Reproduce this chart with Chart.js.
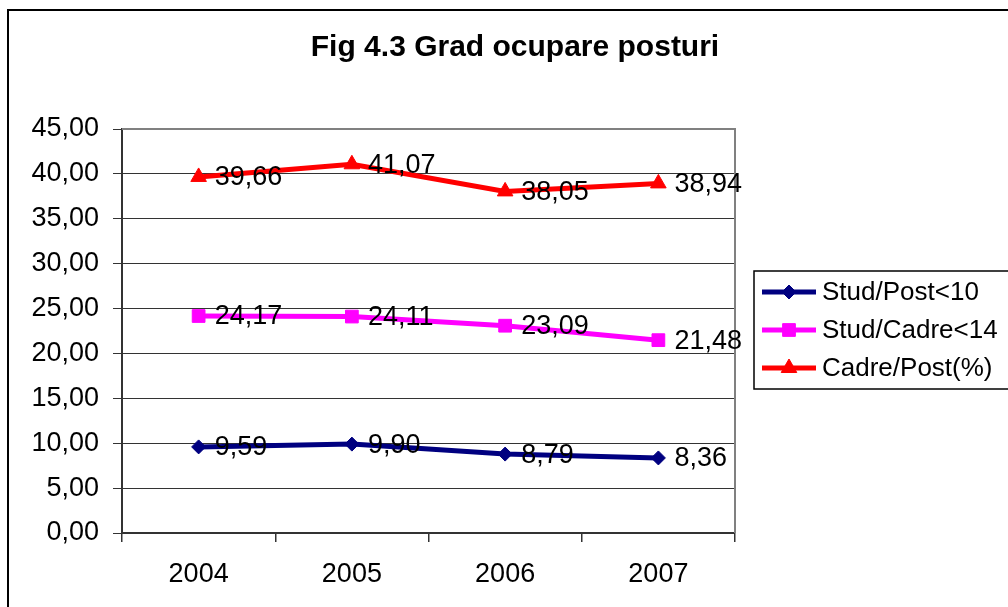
<!DOCTYPE html>
<html>
<head>
<meta charset="utf-8">
<script src="https://cdn.jsdelivr.net/npm/chart.js@4/dist/chart.umd.min.js"></script>
<style>
  html, body { margin: 0; padding: 0; background: #fff; }
  #wrap { width: 1008px; height: 607px; }
</style>
</head>
<body>
<div id="wrap"><canvas id="chart"></canvas></div>
<script>
const years = ['2004', '2005', '2006', '2007'];
const studPost = [9.59, 9.90, 8.79, 8.36];
const studCadre = [24.17, 24.11, 23.09, 21.48];
const cadrePost = [39.66, 41.07, 38.05, 38.94];
const seriesNames = ['Stud/Post<10', 'Stud/Cadre<14', 'Cadre/Post(%)'];
const titleText = 'Fig 4.3 Grad ocupare posturi';

const FONT = '"Liberation Sans", Arial, sans-serif';
const fmt = v => v.toFixed(2).replace('.', ',');

// frame, title, plot border, value labels, legend
const decor = {
  id: 'decor',
  beforeDraw(chart) {
    const c = chart.ctx;
    c.save();
    c.fillStyle = '#fff';
    c.fillRect(0, 0, chart.width, chart.height);
    c.strokeStyle = '#000';
    c.lineWidth = 2;
    c.strokeRect(8, 10, 1020, 620);
    c.fillStyle = '#000';
    c.font = 'bold 30px ' + FONT;
    c.textAlign = 'center';
    c.textBaseline = 'middle';
    c.fillText(titleText, 515, 48);
    c.restore();
  },
  beforeDatasetsDraw(chart) {
    const a = chart.chartArea;
    const c = chart.ctx;
    c.save();
    c.strokeStyle = '#808080';
    c.lineWidth = 2;
    c.beginPath();
    c.moveTo(a.left, a.top);
    c.lineTo(a.right, a.top);
    c.lineTo(a.right, a.bottom);
    c.stroke();
    c.restore();
  },
  afterDatasetsDraw(chart) {
    const c = chart.ctx;
    c.save();
    c.fillStyle = '#000';
    c.font = '27px ' + FONT;
    c.textAlign = 'left';
    c.textBaseline = 'middle';
    chart.data.datasets.forEach((ds, i) => {
      chart.getDatasetMeta(i).data.forEach((pt, j) => {
        c.fillText(fmt(ds.data[j]), pt.x + 16, pt.y + 1);
      });
    });

    // legend
    c.font = '26px ' + FONT;
    c.strokeStyle = '#000';
    c.lineWidth = 1.5;
    c.strokeRect(754, 271, 300, 118);
    const rows = [292, 330, 368];
    chart.data.datasets.slice().reverse().forEach((ds, k) => {
      const y = rows[k];
      c.strokeStyle = ds.borderColor;
      c.fillStyle = ds.borderColor;
      c.lineWidth = 5;
      c.beginPath();
      c.moveTo(762, y);
      c.lineTo(816, y);
      c.stroke();
      c.lineWidth = 1;
      Chart.helpers.drawPoint(c, {
        pointStyle: ds.pointStyle, radius: ds.pointRadius, borderWidth: 1
      }, 789, y);
      c.fillStyle = '#000';
      c.fillText(ds.label, 822, y + 1);
    });
    c.restore();
  }
};

function series(label, data, color, style, r) {
  return {
    label, data,
    borderColor: color, backgroundColor: color,
    pointBackgroundColor: color, pointBorderColor: color, pointBorderWidth: 1,
    borderWidth: 5, pointStyle: style, pointRadius: r, pointHoverRadius: r,
    tension: 0
  };
}

// drawn bottom to top so the legend (reversed) reads like the original
const datasets = [
  series(seriesNames[2], cadrePost, '#ff0000', 'triangle', 9),
  series(seriesNames[1], studCadre, '#ff00ff', 'rect', 9),
  series(seriesNames[0], studPost, '#000080', 'rectRot', 7)
];

new Chart(document.getElementById('chart'), {
  type: 'line',
  data: { labels: years, datasets },
  plugins: [decor],
  options: {
    responsive: true,
    maintainAspectRatio: false,
    animation: false,
    events: [],
    layout: { padding: { left: 0, right: 273, top: 129, bottom: 0 } },
    plugins: { legend: { display: false }, title: { display: false }, tooltip: { enabled: false } },
    scales: {
      x: {
        offset: true,
        grid: { offset: true, drawOnChartArea: false, color: '#333', tickLength: 9, lineWidth: 1.5 },
        border: { color: '#333', width: 2 },
        ticks: { color: '#000', font: { family: FONT, size: 27 }, padding: 16, maxRotation: 0 },
        afterFit(s) { s.height = 74; }
      },
      y: {
        min: 0, max: 45,
        grid: { color: '#333', lineWidth: 1, tickLength: 9 },
        border: { color: '#333', width: 2 },
        ticks: { stepSize: 5, color: '#000', font: { family: FONT, size: 27 }, padding: 14, callback: v => fmt(v) },
        afterFit(s) { s.width = 122; }
      }
    }
  }
});
</script>
</body>
</html>
